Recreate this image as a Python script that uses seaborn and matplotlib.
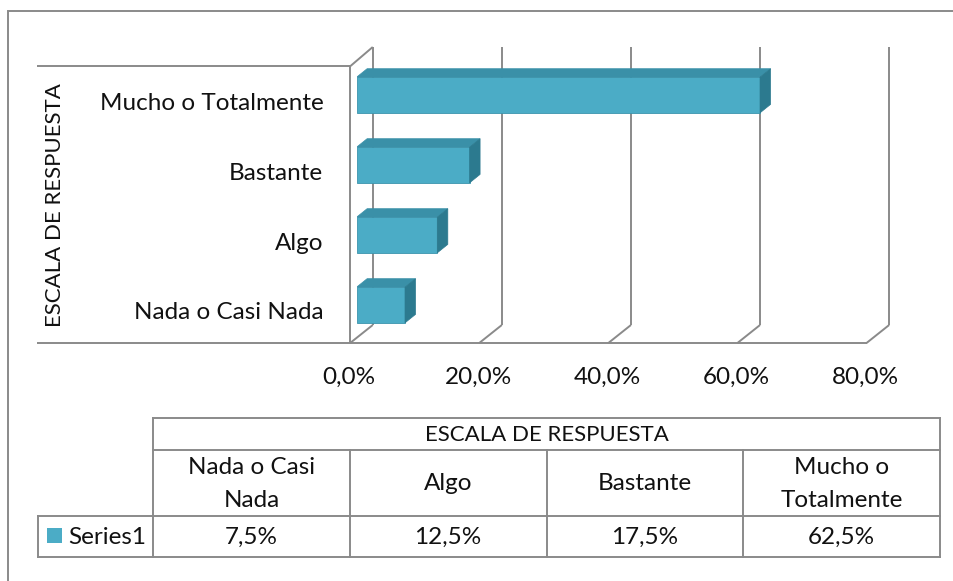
import numpy as np
import pandas as pd
import matplotlib.pyplot as plt
import seaborn as sns
from matplotlib.patches import Polygon, Rectangle
from matplotlib.transforms import ScaledTranslation

# datos
categorias = ['Mucho o Totalmente', 'Bastante', 'Algo', 'Nada o Casi Nada']
valores = [62.5, 17.5, 12.5, 7.5]
cats_tabla = ['Nada o Casi\nNada', 'Algo', 'Bastante', 'Mucho o\nTotalmente']
vals_tabla = ['7,5%', '12,5%', '17,5%', '62,5%']
ticks_x = [0, 20, 40, 60, 80]
etiquetas_x = ['0,0%', '20,0%', '40,0%', '60,0%', '80,0%']
titulo = 'ESCALA DE RESPUESTA'
serie = 'Series1'

W, H = 954, 581
frente = '#4BACC6'
arriba = '#3A90A8'
lado = '#2C7A8F'
gris = '#8a8a8a'
FS = 17.5   # texto normal
FT = 16     # titulos en mayusculas
txt = '#111111'

sns.set_style('white')
plt.rcParams['font.family'] = ['Lato', 'DejaVu Sans']

fig = plt.figure(figsize=(W / 100, H / 100), dpi=100)


def caja(x0, y0, x1, y1):
    return [x0 / W, 1 - y1 / H, (x1 - x0) / W, (y1 - y0) / H]


# marco exterior (solo se ven borde izq y superior)
fig.add_artist(Rectangle((8 / W, -0.1), 1.2, 1.1 - 11 / H, transform=fig.transFigure,
                         fill=False, edgecolor=gris, lw=1.4))

# grafico de barras
ax = fig.add_axes(caja(356.6, 40, 873, 350))
df = pd.DataFrame({'cat': categorias, 'val': valores})
sns.barplot(data=df, x='val', y='cat', order=categorias, color=frente, saturation=1,
            width=0.51, edgecolor='#3b94ad', linewidth=0.6, ax=ax, zorder=3)
ax.set_xlim(0, 80)
ax.set_ylim(3.643, -0.786)
for s in ax.spines.values():
    s.set_visible(False)

# caras 3D de las barras
DX, DY = 1.63, -0.121
for p in ax.patches:
    x0, y0, w, h = p.get_x(), p.get_y(), p.get_width(), p.get_height()
    ax.add_patch(Polygon([(x0, y0), (x0 + w, y0), (x0 + w + DX, y0 + DY), (x0 + DX, y0 + DY)],
                         closed=True, facecolor=arriba, edgecolor=arriba, lw=0.5, zorder=3))
    ax.add_patch(Polygon([(x0 + w, y0), (x0 + w, y0 + h), (x0 + w + DX, y0 + h + DY), (x0 + w + DX, y0 + DY)],
                         closed=True, facecolor=lado, edgecolor=lado, lw=0.5, zorder=3))

# paredes
YT, YB, YF, YL = -0.686, 3.286, 3.543, -0.41
kw = dict(color=gris, lw=1.4, clip_on=False, zorder=1, solid_capstyle='butt')
for g in ticks_x:
    ax.plot([g + 2.5, g + 2.5], [YT, YB], **kw)
    ax.plot([g - 1, g + 2.5], [YF, YB], **kw)
ax.plot([-49.5, 79], [YF, YF], **kw)
ax.plot([-1, -1], [YL, YF], **kw)
ax.plot([-1, 2.5], [YL, YT], **kw)
ax.plot([-49.5, -1], [YL, YL], **kw)

# etiquetas
ax.set_xticks(ticks_x)
ax.set_xticklabels(etiquetas_x, fontsize=FS, color=txt)
ax.set_yticks(range(len(categorias)))
ax.set_yticklabels(categorias, fontsize=FS, color=txt)
ax.tick_params(axis='y', length=0, pad=24)
ax.tick_params(axis='x', length=0, pad=12)
for lbl in ax.get_xticklabels():
    lbl.set_transform(lbl.get_transform() + ScaledTranslation(-0.076, 0, fig.dpi_scale_trans))
for lbl in ax.get_yticklabels():
    lbl.set_transform(lbl.get_transform() + ScaledTranslation(0, -0.06, fig.dpi_scale_trans))
ax.set_xlabel('')
ax.set_ylabel(titulo, fontsize=FT, color=txt)
ax.yaxis.set_label_coords(-0.565, 0.468)

# tabla de datos
tx = fig.add_axes(caja(38, 418, 940, 557))
tx.set_xlim(-0.5845, 4)
tx.set_ylim(139, 0)
tx.axis('off')
lk = dict(color=gris, lw=1.4, clip_on=False, solid_capstyle='projecting')
tx.plot([0, 4], [0, 0], **lk)
tx.plot([0, 4], [32, 32], **lk)
tx.plot([-0.5845, 4], [98, 98], **lk)
tx.plot([-0.5845, 4], [139, 139], **lk)
tx.plot([-0.5845, -0.5845], [98, 139], **lk)
tx.plot([0, 0], [0, 139], **lk)
tx.plot([4, 4], [0, 139], **lk)
for i in range(1, 4):
    tx.plot([i, i], [32, 139], **lk)

tx.text(2, 17, titulo, ha='center', va='center', fontsize=FT, color=txt)
for i, (c, v) in enumerate(zip(cats_tabla, vals_tabla)):
    tx.text(i + 0.5, 66, c, ha='center', va='center', fontsize=FS, linespacing=1.7, color=txt)
    tx.text(i + 0.5, 119, v, ha='center', va='center', fontsize=FS, color=txt)
tx.add_patch(Rectangle((-0.539, 110), 0.076, 15, facecolor=frente, edgecolor='none'))
tx.text(-0.432, 119, serie, ha='left', va='center', fontsize=FS, color=txt)

fig.savefig('out.png', dpi=100)
